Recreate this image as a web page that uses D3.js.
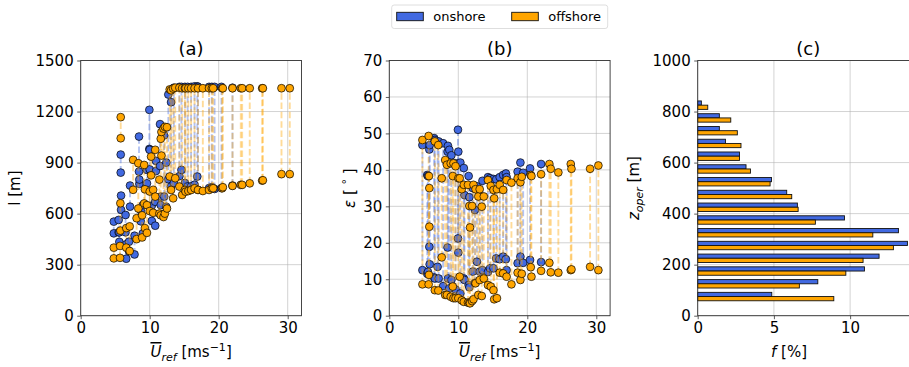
<!DOCTYPE html>
<html>
<head>
<meta charset="utf-8">
<script src="https://cdn.jsdelivr.net/npm/d3@7"></script>
<style>
  body { margin: 0; background: #fff; }
  svg { display: block; }
  text { font-family: "DejaVu Sans", sans-serif; fill: #000; }
</style>
</head>
<body>
<svg id="fig" width="909" height="367"></svg>
<script>
// ---- Onshore cases: reference wind speed, tether length (low/high), elevation (low/high)
const onU        = [4.8, 5.5, 5.6, 5.8, 5.85, 6.5, 6.6, 7.0, 7.15, 7.8, 8.45, 8.5, 8.7, 9.0, 9.6, 9.95, 10.0, 10.3, 10.8, 10.9, 11.5, 11.6, 12.1, 12.4, 12.7, 13.1, 13.5, 14.3, 14.6, 15.1, 15.5, 16.0, 16.5, 16.9, 17.0, 18.6, 19.0, 19.4, 20.4, 22.0];
const onLenLow   = [484, 490, 434, 841, 622, 490, 335, 380, 641, 360, 847, 775, 555, 484, 778, 980, 860, 557, 529, 850, 880, 650, 700, 640, 802, 760, 780, 820, 857, 780, 760, 760, 770, 818, 740, 750, 755, 745, 750, 765];
const onLenHigh  = [553, 563, 490, 947, 706, 592, 420, 435, 765, 470, 1053, 800, 620, 650, 857, 1210, 975, 647, 670, 910, 1126, 700, 1060, 900, 1300, 1255, 1340, 1345, 1345, 1345, 1345, 1345, 1348, 1348, 1345, 1345, 1345, 1345, 1345, 1340];
const onElevLow  = [12.5, 11.5, 12.0, 18.9, 14.1, 10.5, 10.2, 13.4, 10.2, 8.1, 18.7, 10.2, 7.5, 9.8, 7.2, 21.2, 17.3, 6.1, 10.2, 9.8, 8.4, 7.8, 12.1, 9.0, 14.8, 12.1, 12.5, 12.0, 13.0, 13.0, 15.7, 15.5, 16.2, 15.5, 12.5, 14.4, 16.2, 14.5, 15.3, 14.7];
const onElevHigh = [46.8, 38.6, 38.3, 45.6, 46.8, 48.7, 48.2, 47.3, 47.8, 47.3, 45.0, 46.6, 45.5, 44.0, 41.8, 51.0, 45.0, 42.0, 40.5, 33.1, 38.3, 32.5, 35.0, 29.0, 35.5, 33.0, 37.0, 38.0, 37.7, 37.5, 37.4, 38.0, 38.6, 39.0, 38.0, 39.5, 42.0, 39.2, 40.4, 41.6];

// ---- Offshore cases
const offU        = [4.8, 5.7, 5.75, 5.8, 6.6, 7.1, 7.6, 8.1, 8.35, 8.9, 9.2, 9.3, 9.6, 10.0, 10.2, 10.5, 10.8, 11.4, 11.6, 11.7, 12.0, 12.2, 12.5, 12.9, 13.1, 13.4, 13.7, 14.3, 14.7, 15.1, 15.2, 15.6, 16.0, 16.5, 17.0, 17.7, 18.6, 19.0, 19.2, 20.5, 20.6, 22.0, 23.2, 23.4, 24.5, 26.3, 26.4, 29.1, 30.3];
const offLenLow   = [337, 340, 500, 1043, 400, 380, 740, 450, 630, 460, 660, 515, 487, 615, 825, 605, 700, 600, 590, 941, 580, 600, 630, 818, 739, 690, 808, 759, 710, 739, 729, 733, 739, 749, 739, 733, 739, 749, 749, 749, 755, 763, 769, 769, 778, 794, 796, 832, 832];
const offLenHigh  = [400, 410, 661, 1167, 515, 525, 916, 573, 896, 590, 886, 743, 650, 730, 935, 740, 975, 800, 1040, 1080, 1100, 1110, 1108, 1330, 1325, 1335, 1340, 1340, 1337, 1337, 1337, 1337, 1337, 1337, 1337, 1337, 1337, 1337, 1337, 1337, 1337, 1337, 1337, 1337, 1337, 1337, 1337, 1337, 1337];
const offElevLow  = [8.6, 8.6, 11.2, 24.4, 7.0, 6.9, 16.0, 5.7, 5.7, 5.2, 8.0, 4.8, 4.8, 4.8, 10.7, 4.2, 3.8, 3.6, 3.5, 3.4, 4.0, 4.5, 8.9, 5.7, 9.8, 5.4, 10.2, 8.4, 8.0, 7.0, 4.5, 4.8, 11.8, 11.6, 10.7, 8.6, 11.8, 9.8, 11.5, 13.3, 10.7, 12.3, 14.5, 11.9, 11.8, 12.5, 12.7, 13.4, 12.5];
const offElevHigh = [48.2, 49.3, 38.3, 35.0, 47.8, 46.8, 37.7, 42.7, 41.4, 41.8, 38.3, 41.8, 41.0, 37.7, 37.7, 34.7, 35.9, 35.9, 30.1, 24.2, 30.1, 35.9, 34.7, 32.7, 34.7, 29.9, 32.7, 37.2, 35.6, 34.5, 32.2, 34.7, 35.9, 34.5, 37.2, 36.5, 37.7, 36.6, 38.1, 38.6, 38.3, 38.8, 41.6, 40.3, 39.3, 41.6, 40.3, 40.3, 41.2];

// ---- Operating-height distribution (50 m bins)
const zBinCenters = [75, 125, 175, 225, 275, 325, 375, 425, 475, 525, 575, 625, 675, 725, 775, 825];
const fOnshore    = [4.86, 7.88, 10.94, 11.90, 13.76, 13.17, 9.63, 6.54, 5.84, 4.84, 3.17, 2.74, 1.82, 1.42, 1.42, 0.24];
const fOffshore   = [8.93, 6.67, 9.72, 10.85, 12.84, 11.49, 7.72, 6.59, 6.17, 4.75, 3.46, 2.74, 2.84, 2.60, 2.17, 0.66];

// ---- Tick values
const windTicks = [0, 10, 20, 30];
const lenTicks  = [0, 300, 600, 900, 1200, 1500];
const elevTicks = [0, 10, 20, 30, 40, 50, 60, 70];
const fTicks    = [0, 5, 10];
const zTicks    = [0, 200, 400, 600, 800, 1000];

const legendItems = [{ name: "onshore", color: "#4169E1" }, { name: "offshore", color: "#FFA500" }];

const BLUE = "#4169E1", ORANGE = "#FFA500";
const svg = d3.select("#fig");
const yTop = 60.5, yBottom = 315.7;

function makePanel(x0, x1, xDomain, yDomain, xTicks, yTicks) {
  const x = d3.scaleLinear().domain(xDomain).range([x0, x1]);
  const y = d3.scaleLinear().domain(yDomain).range([yBottom, yTop]);
  const g = svg.append("g");
  const grid = g.append("g");
  grid.selectAll("line.gx").data(xTicks).join("line").attr("class", "gx")
    .attr("x1", d => x(d)).attr("x2", d => x(d)).attr("y1", yTop).attr("y2", yBottom)
    .attr("stroke", "#b0b0b0").attr("stroke-width", 0.8).attr("stroke-opacity", 0.7);
  grid.selectAll("line.gy").data(yTicks).join("line").attr("class", "gy")
    .attr("x1", x0).attr("x2", x1).attr("y1", d => y(d)).attr("y2", d => y(d))
    .attr("stroke", "#b0b0b0").attr("stroke-width", 0.8).attr("stroke-opacity", 0.7);
  const content = g.append("g");
  return { x, y, g, content, x0, x1 };
}

function finishPanel(p, xTicks, yTicks) {
  const fmt = d3.format("d");
  const ax = p.g.append("g").attr("transform", `translate(0,${yBottom})`)
    .call(d3.axisBottom(p.x).tickValues(xTicks).tickFormat(fmt).tickSize(3.5).tickPadding(3.5));
  const ay = p.g.append("g").attr("transform", `translate(${p.x0},0)`)
    .call(d3.axisLeft(p.y).tickValues(yTicks).tickFormat(fmt).tickSize(3.5).tickPadding(3.5));
  [ax, ay].forEach(a => {
    a.select(".domain").remove();
    a.selectAll("text").attr("font-size", 15).attr("font-family", "DejaVu Sans").attr("fill", "#000");
    a.selectAll("line").attr("stroke", "#333").attr("stroke-width", 0.8);
  });
  p.g.append("rect").attr("x", p.x0).attr("y", yTop).attr("width", p.x1 - p.x0).attr("height", yBottom - yTop)
    .attr("fill", "none").attr("stroke", "#333").attr("stroke-width", 0.9);
}

function scatterPanel(p, sets) {
  // each set: dashed connectors, then its markers
  sets.forEach(s => {
    const cases = s.U.map((u, i) => ({ u, lo: s.lo[i], hi: s.hi[i] }));
    p.content.append("g").selectAll("line").data(cases).join("line")
      .attr("x1", d => p.x(d.u)).attr("x2", d => p.x(d.u))
      .attr("y1", d => p.y(d.lo)).attr("y2", d => p.y(d.hi))
      .attr("stroke", s.color).attr("stroke-opacity", 0.4).attr("stroke-width", 1.9)
      .attr("stroke-dasharray", "6.5,2.8");
    const pts = cases.flatMap(d => [{ u: d.u, v: d.lo }, { u: d.u, v: d.hi }]);
    p.content.append("g").selectAll("circle").data(pts).join("circle")
      .attr("cx", d => p.x(d.u)).attr("cy", d => p.y(d.v)).attr("r", 3.9)
      .attr("fill", s.color).attr("stroke", "#000").attr("stroke-width", 0.7);
  });
}

// ---------- (a) tether length ----------
const pa = makePanel(80.7, 301.5, [0, 32], [0, 1500], windTicks, lenTicks);
scatterPanel(pa, [
  { U: onU, lo: onLenLow, hi: onLenHigh, color: BLUE },
  { U: offU, lo: offLenLow, hi: offLenHigh, color: ORANGE }
]);
finishPanel(pa, windTicks, lenTicks);

// ---------- (b) elevation angle ----------
const pb = makePanel(389.3, 610.1, [0, 32], [0, 70], windTicks, elevTicks);
scatterPanel(pb, [
  { U: onU, lo: onElevLow, hi: onElevHigh, color: BLUE },
  { U: offU, lo: offElevLow, hi: offElevHigh, color: ORANGE }
]);
finishPanel(pb, windTicks, elevTicks);

// ---------- (c) operating height histogram ----------
const pc = makePanel(697.7, 918.7, [0, 14.5], [0, 1000], fTicks, zTicks);
const barH = 16.5;
pc.content.append("g").selectAll("rect").data(zBinCenters.map((z, i) => ({ z, f: fOnshore[i] }))).join("rect")
  .attr("x", pc.x(0)).attr("y", d => pc.y(d.z + barH)).attr("width", d => pc.x(d.f) - pc.x(0))
  .attr("height", d => pc.y(d.z) - pc.y(d.z + barH))
  .attr("fill", BLUE).attr("stroke", "#111").attr("stroke-width", 0.9);
pc.content.append("g").selectAll("rect").data(zBinCenters.map((z, i) => ({ z, f: fOffshore[i] }))).join("rect")
  .attr("x", pc.x(0)).attr("y", d => pc.y(d.z)).attr("width", d => pc.x(d.f) - pc.x(0))
  .attr("height", d => pc.y(d.z - barH) - pc.y(d.z))
  .attr("fill", ORANGE).attr("stroke", "#111").attr("stroke-width", 0.9);
finishPanel(pc, fTicks, zTicks);

// ---------- titles ----------
[["(a)", pa], ["(b)", pb], ["(c)", pc]].forEach(([t, p]) => {
  svg.append("text").attr("x", (p.x0 + p.x1) / 2).attr("y", 55).attr("text-anchor", "middle")
    .attr("font-size", 18).text(t);
});

// ---------- axis labels ----------
function windLabel(cx) {
  const t = svg.append("text").attr("x", cx).attr("y", 357).attr("text-anchor", "middle").attr("font-size", 15);
  t.append("tspan").attr("font-style", "italic").attr("text-decoration", "overline").text("U");
  t.append("tspan").attr("font-style", "italic").attr("font-size", 11).attr("dy", 4).text("ref");
  t.append("tspan").attr("dy", -4).text(" [ms");
  t.append("tspan").attr("font-size", 11).attr("dy", -6).text("−1");
  t.append("tspan").attr("dy", 6).text("]");
}
windLabel((pa.x0 + pa.x1) / 2);
windLabel((pb.x0 + pb.x1) / 2);

const fl = svg.append("text").attr("x", 789).attr("y", 357).attr("text-anchor", "middle").attr("font-size", 15);
fl.append("tspan").attr("font-style", "italic").text("f");
fl.append("tspan").text(" [%]");

svg.append("text").attr("transform", `translate(20,${(yTop + yBottom) / 2}) rotate(-90)`)
  .attr("text-anchor", "middle").attr("font-size", 15).text("l [m]");

const el = svg.append("text").attr("transform", `translate(355,${(yTop + yBottom) / 2}) rotate(-90)`)
  .attr("text-anchor", "middle").attr("font-size", 15);
el.append("tspan").attr("font-style", "italic").text("ε");
el.append("tspan").text(" [ ");
el.append("tspan").attr("font-size", 11).attr("dy", -5).text("°");
el.append("tspan").attr("dy", 5).text(" ]");

const zl = svg.append("text").attr("transform", `translate(639,${(yTop + yBottom) / 2}) rotate(-90)`)
  .attr("text-anchor", "middle").attr("font-size", 15);
zl.append("tspan").attr("font-style", "italic").text("z");
zl.append("tspan").attr("font-style", "italic").attr("font-size", 11).attr("dy", 4).text("oper");
zl.append("tspan").attr("dy", -4).text(" [m]");

// ---------- legend ----------
const lg = svg.append("g");
lg.append("rect").attr("x", 391.7).attr("y", 5).attr("width", 216).attr("height", 23.5).attr("rx", 2.5)
  .attr("fill", "#fff").attr("stroke", "#d6d6d6").attr("stroke-width", 0.8);
const lx = [396.7, 511.7];
legendItems.forEach((it, i) => {
  lg.append("rect").attr("x", lx[i]).attr("y", 12.3).attr("width", 26.6).attr("height", 8.4)
    .attr("fill", it.color).attr("stroke", "#111").attr("stroke-width", 0.9);
  lg.append("text").attr("x", lx[i] + 36.5).attr("y", 21).attr("font-size", 13).text(it.name);
});
</script>
</body>
</html>
